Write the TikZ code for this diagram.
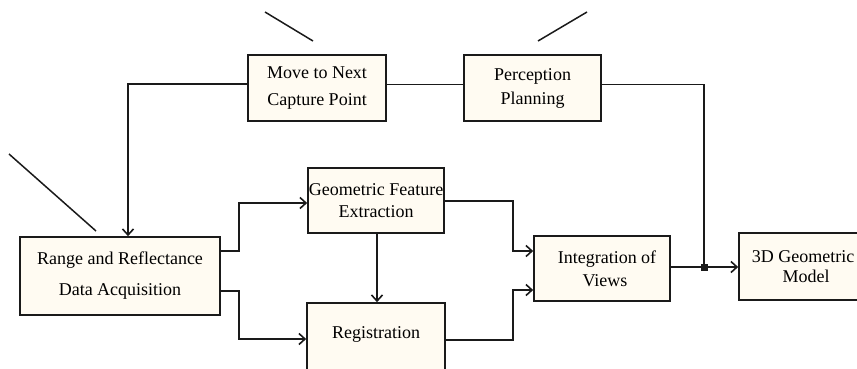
\documentclass[tikz,border=0pt]{standalone}
\usepackage{fontspec}
\setmainfont{Liberation Serif}
\usetikzlibrary{arrows.meta}
\definecolor{cream}{HTML}{FFFBF2}
\definecolor{ink}{HTML}{1A1A1A}
\begin{document}
\begin{tikzpicture}[x=1pt,y=-1pt,
  box/.style={draw=ink, line width=1.7pt, fill=cream, inner sep=0pt, align=center},
  f27/.style={font=\fontsize{18}{27}\selectfont},
  f31/.style={font=\fontsize{18}{31}\selectfont},
  f24/.style={font=\fontsize{18}{24}\selectfont},
  f22/.style={font=\fontsize{18}{22}\selectfont},
  f20/.style={font=\fontsize{18}{20}\selectfont},
  f23/.style={font=\fontsize{18}{23}\selectfont},
  conn/.style={draw=ink, line width=1.6pt},
  arr/.style={conn, -{Straight Barb[length=6pt,width=11pt,line width=1.6pt]}},
  slash/.style={draw=ink, line width=1.5pt}]
\useasboundingbox (0,0) rectangle (857,368);
\clip (0,0) rectangle (857,368);
% decorative strokes
\draw[slash] (265,12) -- (313,41);
\draw[slash] (538,41) -- (587,12);
\draw[slash] (9,154) -- (96,231);
% boxes
\node[box, f27, minimum width=138pt, minimum height=66pt] (Move) at (317,88) {Move to Next\\Capture Point};
\node[box, f24, minimum width=137pt, minimum height=66pt] (Perc) at (532.5,88) {Perception\\Planning};
\node[box, f31, minimum width=200pt, minimum height=78pt] (Range) at (120,276) {Range and Reflectance\\Data Acquisition};
\node[box, f22, minimum width=136pt, minimum height=65pt] (Geo) at (376,200.5) {Geometric Feature\\Extraction};
\node[box, f22, minimum width=138pt, minimum height=80pt] (Reg) at (376,343) {\raisebox{5pt}[0pt][0pt]{Registration}};
\node[box, f23, minimum width=136pt, minimum height=65pt] (Int) at (602,268.5) {\hspace*{10pt}Integration of\\\hspace*{6pt}Views};
\node[box, f20, minimum width=128pt, minimum height=67pt] (Model) at (803,266.5) {3D Geometric\\\hspace*{6pt}Model};
% connectors
\coordinate (J) at (704,267);
\draw[arr] ([yshift=4pt]Move.west) -| ([xshift=8pt]Range.north);
\draw[conn] ([yshift=3.5pt]Move.east) -- ([yshift=3.5pt]Perc.west);
\draw[conn] ([yshift=3.5pt]Perc.east) -| (J);
\draw[arr] ([yshift=25pt]Range.east) -- (239,251) |- ([yshift=-2.5pt]Geo.west);
\draw[arr] ([yshift=-15pt]Range.east) -- (239,291) |- ([yshift=4pt]Reg.west);
\draw[arr] ([xshift=1pt]Geo.south) -- ([xshift=1pt]Reg.north);
\draw[arr] ([yshift=-0.5pt]Geo.east) -- (513,201) |- ([yshift=17.5pt]Int.west);
\draw[arr] ([yshift=3pt]Reg.east) -- (513,340) |- ([yshift=-21.5pt]Int.west);
\draw[arr] ([yshift=1.5pt]Int.east) -- ([yshift=1.5pt]Int.east -| Model.west);
\fill[ink] ([xshift=-3.5pt,yshift=-3.5pt]J) rectangle ([xshift=3.5pt,yshift=3.5pt]J);
\end{tikzpicture}
\end{document}
